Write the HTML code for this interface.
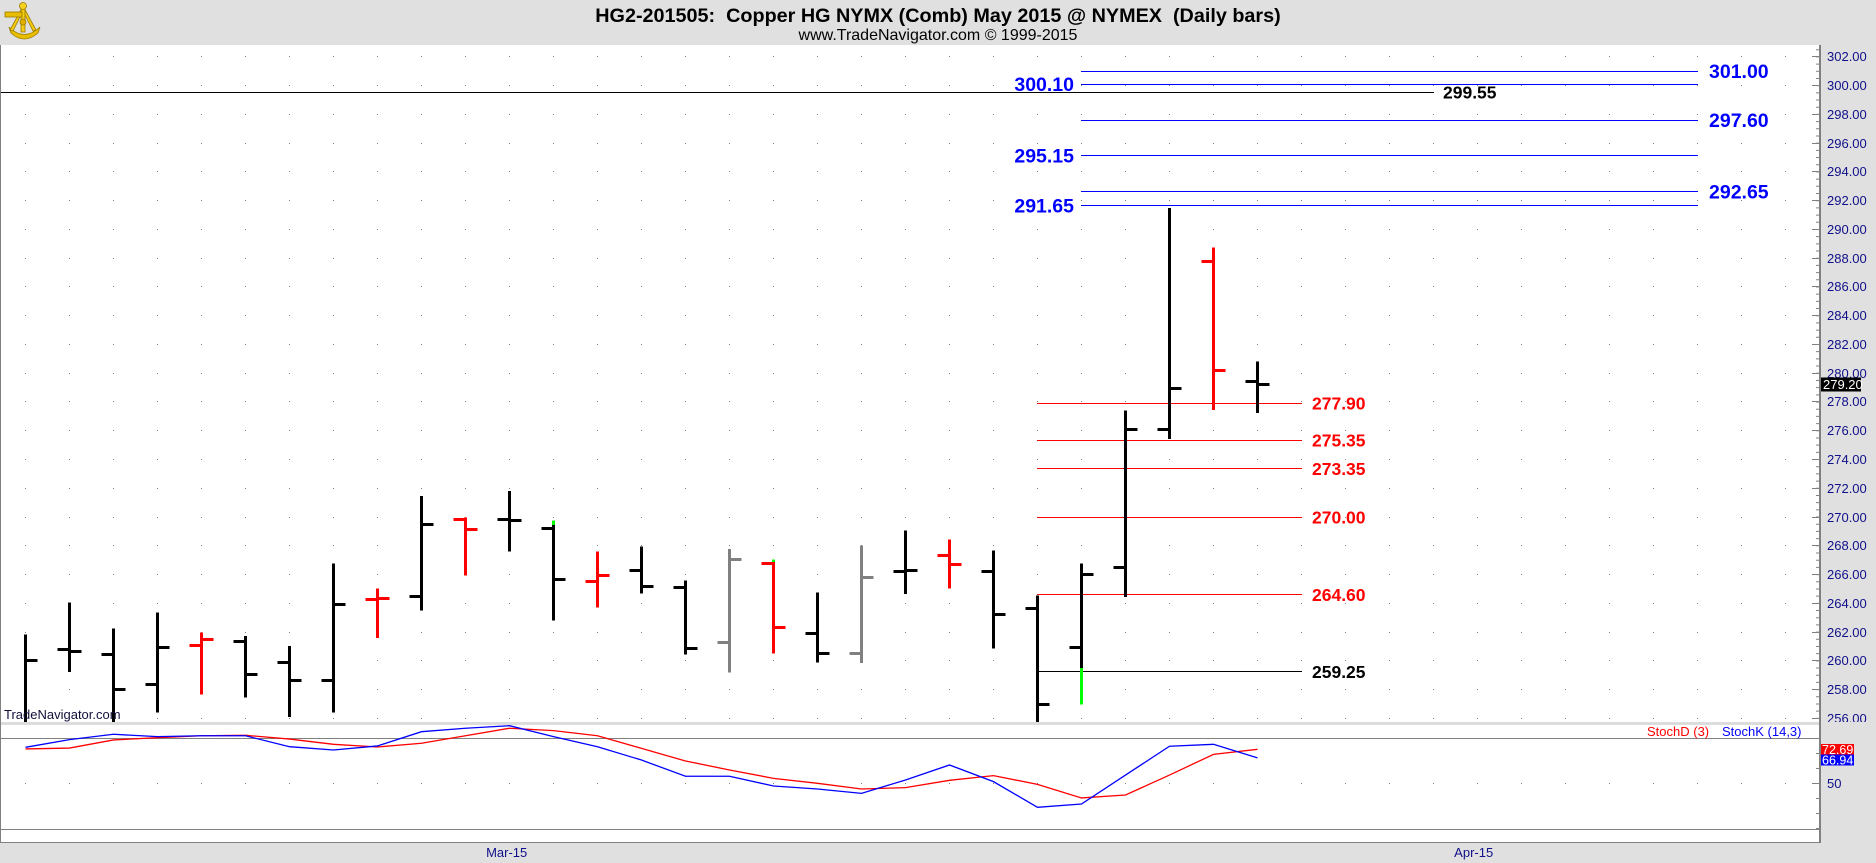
<!DOCTYPE html>
<html><head><meta charset="utf-8"><style>html,body{margin:0;padding:0;background:#fff;overflow:hidden}svg{display:block}</style></head>
<body>
<svg width="1876" height="863" viewBox="0 0 1876 863" xmlns="http://www.w3.org/2000/svg" font-family="'Liberation Sans', Arial, sans-serif">
<defs>
<clipPath id="pp"><rect x="0" y="45" width="1819" height="677"/></clipPath>
<clipPath id="ax"><rect x="1800" y="45" width="76" height="677"/></clipPath>
</defs>
<rect x="0" y="0" width="1876" height="863" fill="#fff"/>
<!-- header -->
<rect x="0" y="0" width="1876" height="45" fill="#E0E0E0"/>
<g>
<path d="M9 27 Q24 42 40 27 L38 33 Q24 45 11 33Z" fill="#E8BE00" stroke="#9C7A00" stroke-width="0.8"/>
<path d="M23 6 L10 30 L13 31 L23 11 L33 31 L36 30Z" fill="#F2CC10" stroke="#9C7A00" stroke-width="0.8"/>
<rect x="21" y="4" width="4" height="28" fill="#F2CC10" stroke="#9C7A00" stroke-width="0.8"/>
<rect x="5" y="12" width="17" height="5" fill="#E8BE00" stroke="#9C7A00" stroke-width="0.8"/>
<circle cx="23" cy="6" r="3.5" fill="#F5D020" stroke="#9C7A00" stroke-width="0.8"/>
<circle cx="23" cy="22" r="3" fill="#E0B000" stroke="#9C7A00" stroke-width="0.8"/>
</g>
<text x="938" y="22" text-anchor="middle" font-size="19.8" font-weight="bold" fill="#000">HG2-201505:&#160; Copper HG NYMX (Comb) May 2015 @ NYMEX&#160; (Daily bars)</text>
<text x="938" y="40" text-anchor="middle" font-size="16" fill="#000">www.TradeNavigator.com © 1999-2015</text>

<!-- right axis & date axis background -->
<rect x="1821" y="45" width="55" height="818" fill="#E0E0E0"/>
<rect x="0" y="842" width="1876" height="21" fill="#E0E0E0"/>

<!-- grid dots price pane -->
<g stroke="#808080" stroke-width="1" stroke-dasharray="1 43">
<path d="M25 56.5H1819M25 85.5H1819M25 114.5H1819M25 143.5H1819M25 171.5H1819M25 200.5H1819M25 229.5H1819M25 258.5H1819M25 286.5H1819M25 315.5H1819M25 344.5H1819M25 373.5H1819M25 401.5H1819M25 430.5H1819M25 459.5H1819M25 488.5H1819M25 517.5H1819M25 545.5H1819M25 574.5H1819M25 603.5H1819M25 632.5H1819M25 660.5H1819M25 689.5H1819M25 718.5H1819M25 783.5H1819"/>
</g>

<!-- level lines -->
<g stroke-width="1" fill="none">
<path stroke="#0000FF" d="M1081 71.5H1698M1081 84.5H1698M1081 120.5H1698M1081 155.5H1698M1081 191.5H1698M1081 205.5H1698"/>
<path stroke="#000" d="M0 92.5H1434M1037 671.5H1302"/>
<path stroke="#FF0000" d="M1037 403.5H1302M1037 440.5H1302M1037 468.5H1302M1037 517.5H1302M1037 594.5H1302"/>
</g>

<!-- bars -->
<g clip-path="url(#pp)" fill="none" stroke-width="3">
<path stroke="#000" d="M25.5 634.5V730M25.5 660.5H37.5
M69.5 602.5V672M57.5 649.5H69.5M69.5 651.5H81.5
M113.5 628.5V730M101.5 654.5H113.5M113.5 689.5H125.5
M157.5 612.5V712.5M145.5 684.5H157.5M157.5 647.5H169.5
M245.5 636V697.5M233.5 641.5H245.5M245.5 674.5H257.5
M289.5 646V717M277.5 662.5H289.5M289.5 680.5H301.5
M333.5 563.5V712.5M321.5 680.5H333.5M333.5 604.5H345.5
M421.5 496V610.5M409.5 596.5H421.5M421.5 524.5H433.5
M509.5 491V551.5M497.5 519.5H509.5M509.5 520.5H521.5
M553.5 520.5V620.5M541.5 528.5H553.5M553.5 579.5H565.5
M641.5 546.5V593.5M629.5 570.5H641.5M641.5 586.5H653.5
M685.5 580.5V654.5M673.5 587.5H685.5M685.5 648.5H697.5
M817.5 592.5V662.5M805.5 633.5H817.5M817.5 653.5H829.5
M905.5 530.5V594M893.5 571.5H905.5M905.5 570.5H917.5
M993.5 550.5V648.5M981.5 571.5H993.5M993.5 614.5H1005.5
M1037.5 595.5V730M1025.5 608.5H1037.5M1037.5 704.5H1049.5
M1081.5 563.5V704.5M1069.5 647.5H1081.5M1081.5 574.5H1093.5
M1125.5 410.5V597M1113.5 567.5H1125.5M1125.5 429.5H1137.5
M1169.5 208V439M1157.5 429.5H1169.5M1169.5 388.5H1181.5
M1257.5 361.5V413M1245.5 381.5H1257.5M1257.5 384.5H1269.5"/>
<path stroke="#FF0000" d="M201.5 632.5V694.5M189.5 645.5H201.5M201.5 639.5H213.5
M377.5 588.5V638M365.5 599.5H377.5M377.5 598.5H389.5
M465.5 517.5V575.5M453.5 519.5H465.5M465.5 529.5H477.5
M597.5 551.5V607.5M585.5 581.5H597.5M597.5 575.5H609.5
M773.5 559.5V653.5M761.5 563.5H773.5M773.5 627.5H785.5
M949.5 539.5V588.5M937.5 555.5H949.5M949.5 564.5H961.5
M1213.5 247.5V410M1201.5 261.5H1213.5M1213.5 370.5H1225.5"/>
<path stroke="#808080" d="M729.5 549V672.5M717.5 642.5H729.5M729.5 559.5H741.5
M861.5 545.5V663M849.5 653.5H861.5M861.5 577.5H873.5"/>
<path stroke="#00FF00" d="M553.5 520.5V525M773.5 559.5V562M1081.5 668V704.5"/>
</g>

<!-- level labels -->
<g font-weight="bold" font-size="19.5" fill="#0000FF">
<text x="1709" y="78.2">301.00</text>
<text x="1709" y="127.1">297.60</text>
<text x="1709" y="198.3">292.65</text>
<text x="1074" y="91.2" text-anchor="end">300.10</text>
<text x="1074" y="162.4" text-anchor="end">295.15</text>
<text x="1074" y="212.7" text-anchor="end">291.65</text>
</g>
<g font-weight="bold" font-size="17.5">
<text x="1443" y="98.4" fill="#000">299.55</text>
<text x="1312" y="409.7" fill="#FF0000">277.90</text>
<text x="1312" y="446.4" fill="#FF0000">275.35</text>
<text x="1312" y="475.1" fill="#FF0000">273.35</text>
<text x="1312" y="523.3" fill="#FF0000">270.00</text>
<text x="1312" y="601" fill="#FF0000">264.60</text>
<text x="1312" y="677.9" fill="#000">259.25</text>
</g>

<text x="4" y="719" font-size="13" fill="#10103a">TradeNavigator.com</text>

<!-- separator -->
<rect x="0" y="722" width="1821" height="3" fill="#DCDCDC"/>

<!-- stochastic pane -->
<g stroke="#808080" stroke-width="1">
<path d="M0 738.5H1819M0 829.5H1819"/>
</g>
<polyline fill="none" stroke="#FF0000" stroke-width="1.3" points="25.5,748.95 69.5,748.05 113.5,739.95 157.5,737.7 201.5,735.75 245.5,735.3 289.5,739.05 333.5,744.3 377.5,747 421.5,743.25 465.5,735.75 509.5,728.25 553.5,730.65 597.5,735.75 641.5,748.35 685.5,760.95 729.5,769.95 773.5,778.35 817.5,783.3 861.5,789 905.5,787.65 949.5,780.3 993.5,775.65 1037.5,784.35 1081.5,797.95 1125.5,795 1169.5,775.05 1213.5,754.35 1257.5,749.3"/>
<polyline fill="none" stroke="#0000FF" stroke-width="1.3" points="25.5,747.3 69.5,739.65 113.5,734.25 157.5,736.65 201.5,735.75 245.5,735.75 289.5,746.7 333.5,750 377.5,745.95 421.5,731.7 465.5,728.25 509.5,725.7 553.5,736.65 597.5,746.7 641.5,760.05 685.5,776.25 729.5,776.25 773.5,786 817.5,789 861.5,793.35 905.5,780 949.5,765 993.5,781.65 1037.5,807.3 1081.5,804 1125.5,775.05 1169.5,746.25 1213.5,744.3 1257.5,757.9"/>
<text x="1647" y="736" font-size="13" fill="#FF0000">StochD (3)</text>
<text x="1722" y="736" font-size="13" fill="#0000FF">StochK (14,3)</text>

<!-- borders -->
<path d="M0.5 45V842" stroke="#808080" stroke-width="1"/>
<path d="M0 842.5H1821" stroke="#808080" stroke-width="1"/>
<rect x="1819" y="45" width="2" height="798" fill="#808080"/>

<!-- price axis ticks -->
<g stroke="#808080" stroke-width="1" clip-path="url(#ax)">
<path d="M1812 56.5H1819M1812 85.5H1819M1812 114.5H1819M1812 143.5H1819M1812 171.5H1819M1812 200.5H1819M1812 229.5H1819M1812 258.5H1819M1812 286.5H1819M1812 315.5H1819M1812 344.5H1819M1812 373.5H1819M1812 401.5H1819M1812 430.5H1819M1812 459.5H1819M1812 488.5H1819M1812 517.5H1819M1812 545.5H1819M1812 574.5H1819M1812 603.5H1819M1812 632.5H1819M1812 660.5H1819M1812 689.5H1819M1812 718.5H1819"/>
</g>
<path d="M1817.5 49.2V722" stroke="#808080" stroke-width="3" stroke-dasharray="1 6.19" fill="none"/>
<path d="M1812 783.5H1819M1816 738.5H1819M1816 753.5H1819M1816 768.5H1819M1816 798.5H1819M1816 813.5H1819M1816 828.5H1819" stroke="#808080" stroke-width="1"/>

<!-- price axis labels -->
<g font-size="13" fill="#10108a" clip-path="url(#ax)">
<text x="1827" y="61">302.00</text>
<text x="1827" y="90">300.00</text>
<text x="1827" y="119">298.00</text>
<text x="1827" y="148">296.00</text>
<text x="1827" y="176">294.00</text>
<text x="1827" y="205">292.00</text>
<text x="1827" y="234">290.00</text>
<text x="1827" y="263">288.00</text>
<text x="1827" y="291">286.00</text>
<text x="1827" y="320">284.00</text>
<text x="1827" y="349">282.00</text>
<text x="1827" y="378">280.00</text>
<text x="1827" y="406">278.00</text>
<text x="1827" y="435">276.00</text>
<text x="1827" y="464">274.00</text>
<text x="1827" y="493">272.00</text>
<text x="1827" y="522">270.00</text>
<text x="1827" y="550">268.00</text>
<text x="1827" y="579">266.00</text>
<text x="1827" y="608">264.00</text>
<text x="1827" y="637">262.00</text>
<text x="1827" y="665">260.00</text>
<text x="1827" y="694">258.00</text>
<text x="1827" y="723">256.00</text>
</g>
<rect x="1821" y="377.5" width="40" height="14" fill="#000"/>
<text x="1823" y="389" font-size="13" fill="#fff">279.20</text>

<!-- stoch axis -->
<text x="1827" y="788" font-size="13" fill="#10108a">50</text>
<rect x="1821" y="754.5" width="33" height="11" fill="#0000FF"/>
<text x="1822" y="764.5" font-size="12.5" fill="#fff">66.94</text>
<rect x="1821" y="744" width="33" height="10.5" fill="#FF0000"/>
<text x="1822" y="753.8" font-size="12.5" fill="#fff">72.69</text>

<!-- date labels -->
<text x="506.7" y="857" text-anchor="middle" font-size="13" fill="#10108a">Mar-15</text>
<text x="1473.7" y="857" text-anchor="middle" font-size="13" fill="#10108a">Apr-15</text>
</svg>
</body></html>
